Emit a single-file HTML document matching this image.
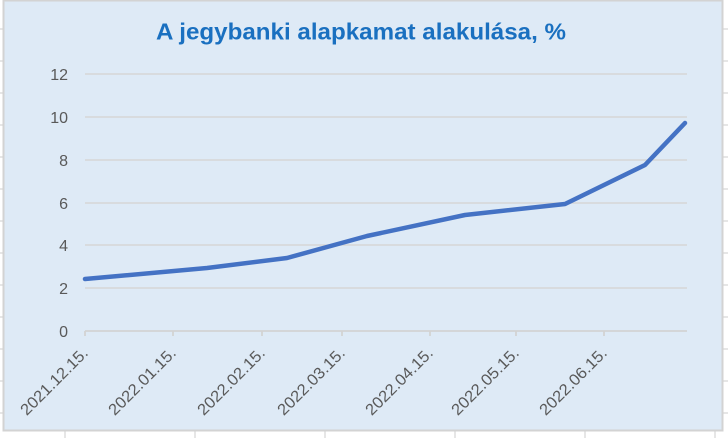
<!DOCTYPE html>
<html>
<head>
<meta charset="utf-8">
<style>
html,body{margin:0;padding:0;background:#ffffff;}
svg{display:block;}
</style>
</head>
<body>
<svg width="728" height="438" viewBox="0 0 728 438" xmlns="http://www.w3.org/2000/svg">
  <!-- outside spreadsheet grid stubs -->
  <g stroke="#d4d4d4" stroke-width="1.2">
    <line x1="0" y1="29" x2="4" y2="29"/><line x1="0" y1="61" x2="4" y2="61"/>
    <line x1="0" y1="93" x2="4" y2="93"/><line x1="0" y1="125" x2="4" y2="125"/>
    <line x1="0" y1="157" x2="4" y2="157"/><line x1="0" y1="189" x2="4" y2="189"/>
    <line x1="0" y1="221" x2="4" y2="221"/><line x1="0" y1="253" x2="4" y2="253"/>
    <line x1="0" y1="285" x2="4" y2="285"/><line x1="0" y1="317" x2="4" y2="317"/>
    <line x1="0" y1="349" x2="4" y2="349"/><line x1="0" y1="381" x2="4" y2="381"/>
    <line x1="0" y1="413" x2="4" y2="413"/>
    <line x1="723" y1="29" x2="728" y2="29"/><line x1="723" y1="61" x2="728" y2="61"/>
    <line x1="723" y1="93" x2="728" y2="93"/><line x1="723" y1="125" x2="728" y2="125"/>
    <line x1="723" y1="157" x2="728" y2="157"/><line x1="723" y1="189" x2="728" y2="189"/>
    <line x1="723" y1="221" x2="728" y2="221"/><line x1="723" y1="253" x2="728" y2="253"/>
    <line x1="723" y1="285" x2="728" y2="285"/><line x1="723" y1="317" x2="728" y2="317"/>
    <line x1="723" y1="349" x2="728" y2="349"/><line x1="723" y1="381" x2="728" y2="381"/>
    <line x1="723" y1="413" x2="728" y2="413"/>
    <line x1="65" y1="431" x2="65" y2="438"/><line x1="195" y1="431" x2="195" y2="438"/>
    <line x1="325" y1="431" x2="325" y2="438"/><line x1="455" y1="431" x2="455" y2="438"/>
    <line x1="585" y1="431" x2="585" y2="438"/><line x1="715" y1="431" x2="715" y2="438"/>
  </g>
  <!-- chart area -->
  <rect x="3.5" y="0.5" width="719" height="430" fill="#deeaf6" stroke="#d3d3d3" stroke-width="2"/>

  <!-- title -->
  <text x="361" y="39.5" text-anchor="middle" font-family="Liberation Sans, sans-serif" font-weight="bold" font-size="23" fill="#1a70c0" textLength="410" lengthAdjust="spacingAndGlyphs">A jegybanki alapkamat alakulása, %</text>

  <!-- gridlines -->
  <g stroke="#d6d6d6" stroke-width="1.5">
    <line x1="85" y1="74" x2="687" y2="74"/>
    <line x1="85" y1="117" x2="687" y2="117"/>
    <line x1="85" y1="160" x2="687" y2="160"/>
    <line x1="85" y1="203" x2="687" y2="203"/>
    <line x1="85" y1="245" x2="687" y2="245"/>
    <line x1="85" y1="288" x2="687" y2="288"/>
  </g>
  <!-- x axis -->
  <g stroke="#d3d3d3" stroke-width="1.8">
    <line x1="85" y1="331" x2="687" y2="331"/>
    <line x1="85" y1="331" x2="85" y2="336"/>
    <line x1="173" y1="331" x2="173" y2="336"/>
    <line x1="262" y1="331" x2="262" y2="336"/>
    <line x1="342" y1="331" x2="342" y2="336"/>
    <line x1="430" y1="331" x2="430" y2="336"/>
    <line x1="516" y1="331" x2="516" y2="336"/>
    <line x1="604" y1="331" x2="604" y2="336"/>
  </g>

  <!-- y labels -->
  <g font-family="Liberation Sans, sans-serif" font-size="16" fill="#595959" text-anchor="end">
    <text x="68" y="80">12</text>
    <text x="68" y="123">10</text>
    <text x="68" y="166">8</text>
    <text x="68" y="209">6</text>
    <text x="68" y="251">4</text>
    <text x="68" y="294">2</text>
    <text x="68" y="337">0</text>
  </g>

  <!-- x labels -->
  <g font-family="Liberation Sans, sans-serif" font-size="16" fill="#595959" text-anchor="end">
    <text transform="translate(89,354) rotate(-45)" textLength="88" lengthAdjust="spacingAndGlyphs">2021.12.15.</text>
    <text transform="translate(177,354) rotate(-45)" textLength="88" lengthAdjust="spacingAndGlyphs">2022.01.15.</text>
    <text transform="translate(266,354) rotate(-45)" textLength="88" lengthAdjust="spacingAndGlyphs">2022.02.15.</text>
    <text transform="translate(346,354) rotate(-45)" textLength="88" lengthAdjust="spacingAndGlyphs">2022.03.15.</text>
    <text transform="translate(434,354) rotate(-45)" textLength="88" lengthAdjust="spacingAndGlyphs">2022.04.15.</text>
    <text transform="translate(520,354) rotate(-45)" textLength="88" lengthAdjust="spacingAndGlyphs">2022.05.15.</text>
    <text transform="translate(608,354) rotate(-45)" textLength="88" lengthAdjust="spacingAndGlyphs">2022.06.15.</text>
  </g>

  <!-- series -->
  <polyline points="85,279 207,268 287,258 367,236 465,215 565,204 645,165 685,123" fill="none" stroke="#4472c4" stroke-width="4.5" stroke-linejoin="round" stroke-linecap="round"/>
</svg>
</body>
</html>
